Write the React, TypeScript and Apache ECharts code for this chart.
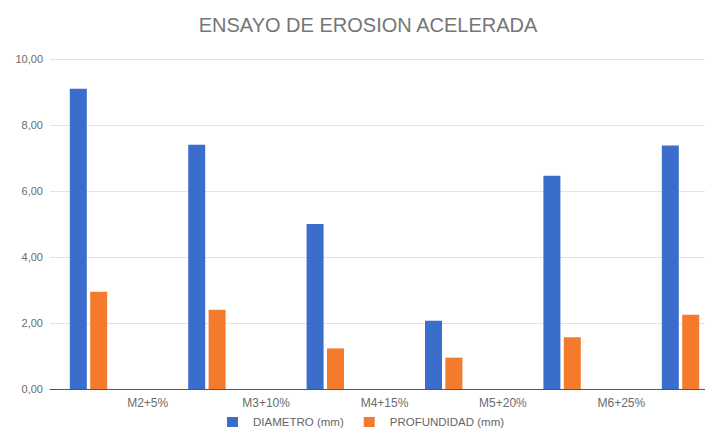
import React, { useEffect, useRef } from "react";
import * as echarts from "echarts";

// Bar groups (one per sample row) and the tick labels drawn between them
const groups = ["1", "2", "3", "4", "5", "6"];
const tickLabels = ["", "M2+5%", "M3+10%", "M4+15%", "M5+20%", "M6+25%", ""];
const diametro = [9.1, 7.4, 5.0, 2.07, 6.46, 7.38];
const profundidad = [2.95, 2.4, 1.23, 0.95, 1.57, 2.25];
const seriesNames = ["DIAMETRO (mm)", "PROFUNDIDAD (mm)"];

const BLUE = "#3b6dcc";
const ORANGE = "#f47b2c";

export default function App() {
  const ref = useRef<HTMLDivElement>(null);

  useEffect(() => {
    if (!ref.current) return;
    const chart = echarts.init(ref.current, undefined, { renderer: "svg" });
    const fmt = (v: number) => v.toFixed(2).replace(".", ",");
    chart.setOption({
      animation: false,
      backgroundColor: "#ffffff",
      textStyle: { fontFamily: "Arial, 'Liberation Sans', sans-serif" },
      title: {
        text: "ENSAYO DE EROSION ACELERADA",
        left: 363,
        top: 10,
        textAlign: "center",
        textStyle: { fontSize: 20, fontWeight: "normal", color: "#767676" },
      },
      legend: {
        data: seriesNames,
        left: 227,
        top: 416,
        padding: 0,
        icon: "rect",
        itemWidth: 11,
        itemHeight: 10,
        itemGap: 20,
        textStyle: {
          fontSize: 11.5,
          lineHeight: 11,
          color: "#666",
          padding: [0, 0, 0, 10],
        },
      },
      grid: [
        // grid carrying the bars, one band per group (wider than the page)
        { left: 29.3, width: 710.4, top: 59, height: 330, outerBoundsMode: "none" },
        // grid carrying the visible value axis and gridlines
        { left: 50, right: 0, top: 59, height: 330, outerBoundsMode: "none" },
      ],
      xAxis: [
        {
          type: "category",
          gridIndex: 0,
          data: groups,
          show: false,
        },
        {
          type: "category",
          gridIndex: 0,
          position: "bottom",
          boundaryGap: false,
          data: tickLabels,
          axisLine: { show: false },
          axisTick: { show: false },
          splitLine: { show: false },
          axisLabel: { interval: 0, fontSize: 12, color: "#6b6b6b", margin: 8 },
        },
        {
          type: "value",
          gridIndex: 1,
          min: 0,
          max: 1,
          axisLine: { show: true, lineStyle: { color: "#555", width: 1 } },
          axisTick: { show: false },
          axisLabel: { show: false },
          splitLine: { show: false },
        },
      ],
      yAxis: [
        { type: "value", gridIndex: 0, min: 0, max: 10, show: false },
        {
          type: "value",
          gridIndex: 1,
          min: 0,
          max: 10,
          interval: 2,
          axisLine: { show: false },
          axisTick: { show: false },
          axisLabel: { formatter: fmt, fontSize: 11, color: "#6b6b6b", margin: 7 },
          splitLine: { lineStyle: { color: "#e3e3e3", width: 1 } },
        },
      ],
      series: [
        {
          name: seriesNames[0],
          type: "bar",
          xAxisIndex: 0,
          yAxisIndex: 0,
          data: diametro,
          barWidth: 17,
          barGap: "20%",
          itemStyle: { color: BLUE },
        },
        {
          name: seriesNames[1],
          type: "bar",
          xAxisIndex: 0,
          yAxisIndex: 0,
          data: profundidad,
          barWidth: 17,
          barGap: "20%",
          itemStyle: { color: ORANGE },
        },
      ],
    });
    return () => chart.dispose();
  }, []);

  return <div ref={ref} style={{ width: 713, height: 436, margin: -8 }} />;
}
